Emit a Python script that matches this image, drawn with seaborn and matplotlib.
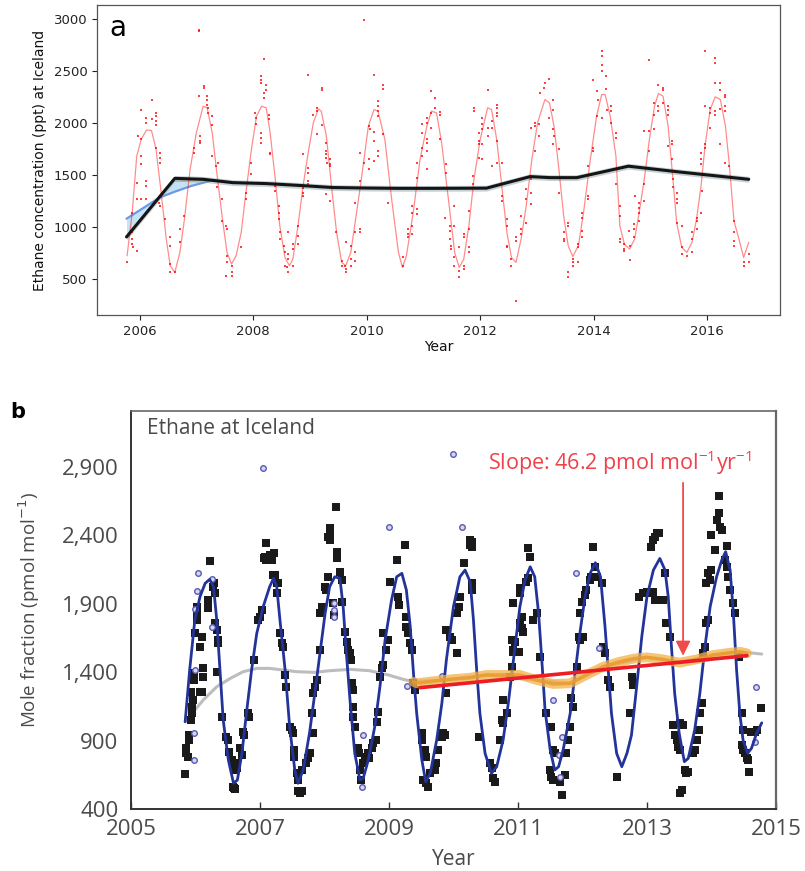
import numpy as np
import pandas as pd
import matplotlib
matplotlib.use("Agg")
import matplotlib.pyplot as plt
import seaborn as sns

# ---------------- Panel a data ----------------
a_obs = [
(2005.78,666),(2005.87,1139),(2005.87,948),(2005.87,884),(2005.87,836),(2005.88,804),
(2005.95,765),(2005.95,1427),(2005.95,1267),(2005.97,1875),
(2006.03,2130),(2006.03,1843),(2006.03,1683),(2006.03,1603),(2006.03,1267),
(2006.12,2050),(2006.12,2002),(2006.12,1443),(2006.12,1395),(2006.12,1267),
(2006.21,2226),(2006.21,2034),
(2006.29,2098),(2006.29,2066),(2006.29,2018),(2006.29,1977),(2006.29,1763),
(2006.36,1715),(2006.36,1667),(2006.36,1619),(2006.34,1235),(2006.36,1203),
(2006.44,1075),(2006.53,909),(2006.53,820),(2006.53,644),(2006.53,564),(2006.62,564),
(2006.71,980),(2006.71,852),(2006.79,1107),(2006.95,1763),(2006.95,1715),
(2007.04,2897),(2007.04,2880),(2007.06,1875),(2007.06,1827),(2007.06,1804),(2007.04,2258),
(2007.13,2354),(2007.13,2338),
(2007.18,2258),(2007.19,2226),(2007.19,2178),(2007.21,2146),(2007.20,2098),
(2007.28,2066),(2007.28,1977),(2007.28,1683),(2007.35,1587),(2007.38,1619),(2007.37,1389),
(2007.46,1267),(2007.46,1059),(2007.53,1011),(2007.54,980),
(2007.54,724),(2007.54,660),(2007.62,628),(2007.63,564),(2007.63,532),(2007.53,526),
(2007.78,804),(2007.87,1331),(2007.88,1267),(2007.96,1619),(2007.96,1507),
(2008.03,2098),(2008.05,2050),(2008.05,1986),
(2008.13,2450),(2008.13,2418),(2008.13,2386),(2008.13,1906),(2008.13,1859),(2008.13,1811),
(2008.20,2616),(2008.20,2290),(2008.20,2242),(2008.22,2322),(2008.22,2370),
(2008.28,2082),(2008.28,2034),(2008.30,1715),(2008.30,1699),(2008.39,1395),(2008.39,1347),
(2008.46,1203),(2008.46,1139),(2008.46,1075),(2008.47,948),(2008.47,884),
(2008.54,820),(2008.56,756),(2008.57,628),(2008.59,612),
(2008.62,948),(2008.62,740),(2008.62,692),(2008.62,564),
(2008.70,836),(2008.70,788),(2008.70,628),(2008.79,1011),(2008.79,916),(2008.79,836),
(2008.88,1699),(2008.88,1379),(2008.88,1331),(2008.88,1299),
(2008.97,1571),(2008.97,1523),(2008.97,1443),(2008.97,1411),(2008.97,2466),
(2009.06,2082),(2009.13,2146),(2009.13,2114),(2009.12,1891),
(2009.22,2338),(2009.22,2322),(2009.22,1977),
(2009.29,1811),(2009.29,1731),(2009.29,1699),(2009.29,1667),(2009.30,1619),
(2009.36,1651),(2009.36,1603),(2009.36,1587),(2009.29,1315),(2009.36,1251),
(2009.46,948),(2009.56,676),(2009.56,628),
(2009.63,852),(2009.62,628),(2009.63,596),(2009.63,564),
(2009.72,820),(2009.72,692),(2009.72,628),
(2009.79,948),(2009.80,756),(2009.80,676),(2009.80,1235),
(2009.89,980),(2009.89,948),(2009.89,1715),(2009.89,1443),
(2009.96,2993),(2009.96,1619),
(2010.04,1555),(2010.04,1651),(2010.04,1970),(2010.05,1938),
(2010.13,2466),(2010.13,1913),(2010.13,1827),(2010.13,1635),
(2010.20,2210),(2010.20,2162),(2010.20,2114),(2010.20,2066),(2010.20,1731),(2010.20,1683),
(2010.29,2370),(2010.29,2328),(2010.29,1891),(2010.38,1235),
(2010.64,708),(2010.64,628),(2010.72,980),(2010.72,932),(2010.72,900),
(2010.79,1203),(2010.79,1139),(2010.79,1011),(2010.79,932),
(2010.88,1171),(2010.88,1123),(2010.88,1475),(2010.88,1619),
(2010.97,1906),(2010.97,1986),(2010.97,1763),(2010.97,1683),
(2011.06,1843),(2011.06,1811),(2011.06,1731),(2011.06,1555),(2011.06,2050),(2011.06,2002),
(2011.14,2306),(2011.14,2098),(2011.14,1954),(2011.21,2242),(2011.21,2146),
(2011.29,2104),(2011.29,2073),(2011.30,1843),
(2011.39,1603),(2011.39,1523),(2011.38,1091),
(2011.47,964),(2011.47,884),(2011.48,820),(2011.48,788),(2011.47,1011),
(2011.54,1203),(2011.54,1011),(2011.54,708),(2011.54,628),
(2011.63,804),(2011.63,580),(2011.63,516),
(2011.71,932),(2011.71,900),(2011.71,628),(2011.71,596),
(2011.80,980),(2011.80,804),(2011.80,756),(2011.80,1155),
(2011.88,1491),(2011.88,1411),(2011.89,2146),(2011.89,2114),
(2011.97,1906),(2011.97,1827),(2011.97,1795),(2011.97,1667),
(2012.04,2050),(2012.04,1986),(2012.04,1938),(2012.04,1795),(2012.04,1651),
(2012.13,2322),(2012.13,1954),(2012.13,1875),(2012.21,2018),(2012.21,1954),(2012.21,1587),
(2012.30,2178),(2012.30,2146),(2012.30,2098),(2012.30,2066),(2012.30,1827),(2012.30,1619),
(2012.39,1299),(2012.39,1251),(2012.39,1619),
(2012.47,1075),(2012.47,1011),(2012.47,820),(2012.47,804),(2012.55,692),(2012.55,628),
(2012.63,292),(2012.63,900),(2012.63,868),(2012.72,1107),(2012.72,980),(2012.72,932),
(2012.81,1267),(2012.81,1043),(2012.81,1363),
(2012.90,1459),(2012.90,1331),(2012.90,1219),(2012.90,1954),
(2012.97,2002),(2012.97,1970),(2012.97,1731),(2013.04,1986),(2013.04,1875),(2013.05,2290),
(2013.13,2338),(2013.14,2386),(2013.22,2424),(2013.22,2050),
(2013.29,2226),(2013.29,2130),(2013.29,1938),(2013.30,1875),(2013.29,1795),
(2013.38,1747),(2013.38,1331),(2013.47,948),(2013.47,884),(2013.47,868),
(2013.55,1043),(2013.55,1011),(2013.55,564),(2013.55,516),
(2013.64,692),(2013.64,660),(2013.64,628),(2013.73,836),(2013.73,804),(2013.73,660),
(2013.80,1139),(2013.80,1091),(2013.80,964),(2013.80,900),
(2013.89,1587),(2013.89,1299),(2013.89,1267),(2013.98,2418),(2013.98,1763),(2013.98,1731),
(2014.05,2306),(2014.07,2226),(2014.05,2066),
(2014.14,2690),(2014.14,2642),(2014.14,2562),(2014.14,2498),(2014.14,2050),
(2014.22,2450),(2014.22,2328),(2014.23,2130),(2014.31,2162),(2014.31,2114),(2014.31,2002),
(2014.39,1906),(2014.39,1859),(2014.39,1411),
(2014.47,1203),(2014.47,1107),(2014.47,884),(2014.47,852),
(2014.54,836),(2014.54,788),(2014.54,772),(2014.63,820),(2014.63,682),(2014.62,964),
(2014.71,1027),(2014.71,980),(2014.71,900),(2014.72,1299),
(2014.80,1235),(2014.80,1187),(2014.80,1139),(2014.80,1059),
(2014.89,1411),(2014.89,1251),(2014.89,1923),(2014.98,2610),(2014.98,1923),(2014.98,1731),
(2015.06,2194),(2015.06,2082),(2015.06,1938),(2015.14,2370),(2015.14,2162),(2015.14,2114),
(2015.22,2338),(2015.22,2316),(2015.22,2194),
(2015.31,2162),(2015.31,2130),(2015.31,2082),(2015.31,1779),
(2015.38,1827),(2015.38,1795),(2015.38,1657),(2015.39,1459),(2015.39,1389),
(2015.46,1331),(2015.46,1267),(2015.46,1235),(2015.46,1037),
(2015.55,1011),(2015.55,804),(2015.55,740),(2015.64,724),
(2015.73,948),(2015.73,884),(2015.73,756),(2015.81,1091),(2015.81,1059),(2015.81,980),
(2015.89,1139),(2015.89,1715),(2015.89,1651),(2015.89,1603),(2015.90,1347),
(2015.96,2690),(2015.96,2162),(2015.96,1795),(2015.96,1763),
(2016.05,1954),(2016.05,2146),(2016.05,2098),
(2016.14,2626),(2016.14,2578),(2016.14,2386),(2016.14,2114),(2016.14,2073),
(2016.23,2386),(2016.23,2322),(2016.23,2136),(2016.23,1795),
(2016.32,2274),(2016.32,2252),(2016.32,2162),(2016.32,2114),(2016.32,1612),
(2016.39,1587),(2016.47,1059),(2016.47,948),(2016.47,868),(2016.47,820),
(2016.65,660),(2016.65,628),(2016.73,740),(2016.73,660),
]

a_fit = [
(2005.78,724),(2005.87,1139),(2005.95,1683),(2006.03,1843),(2006.12,1932),(2006.21,1929),
(2006.29,1747),(2006.38,1331),(2006.47,884),(2006.54,628),(2006.62,564),(2006.71,756),
(2006.79,1075),(2006.89,1555),(2007.00,1906),(2007.12,2162),(2007.19,2146),(2007.28,1906),
(2007.36,1523),(2007.46,1075),(2007.54,756),(2007.62,644),(2007.70,724),(2007.79,948),
(2007.88,1363),(2007.97,1747),(2008.06,2066),(2008.15,2162),(2008.23,2146),(2008.30,1906),
(2008.39,1459),(2008.47,1011),(2008.56,708),(2008.64,628),(2008.70,692),(2008.79,1011),
(2008.88,1395),(2008.97,1715),(2009.06,2002),(2009.15,2136),(2009.20,2114),(2009.29,1875),
(2009.38,1395),(2009.47,948),(2009.56,660),(2009.63,628),(2009.72,756),(2009.89,1395),
(2010.03,1970),(2010.13,2130),(2010.20,2114),(2010.32,1843),(2010.44,1267),(2010.56,756),
(2010.63,612),(2010.70,724),(2010.82,1139),(2010.94,1651),(2011.06,1970),(2011.14,2114),
(2011.23,2098),(2011.32,1811),(2011.44,1267),(2011.55,756),(2011.63,612),(2011.71,692),
(2011.80,1011),(2011.89,1459),(2012.00,1843),(2012.13,2146),(2012.20,2130),(2012.29,1843),
(2012.38,1395),(2012.47,948),(2012.55,708),(2012.63,660),(2012.72,884),(2012.81,1203),
(2012.91,1651),(2013.01,2002),(2013.14,2226),(2013.22,2194),(2013.30,1970),(2013.38,1587),
(2013.47,1107),(2013.55,820),(2013.63,717),(2013.73,820),(2013.82,1139),(2013.94,1651),
(2014.05,2066),(2014.14,2274),(2014.20,2274),(2014.29,2066),(2014.39,1683),(2014.46,1011),
(2014.54,836),(2014.63,788),(2014.72,884),(2014.80,1139),(2014.89,1459),(2014.98,1843),
(2015.07,2162),(2015.14,2284),(2015.22,2258),(2015.31,1970),(2015.39,1491),(2015.46,1043),
(2015.55,804),(2015.64,756),(2015.73,852),(2015.81,1075),(2015.89,1395),(2015.96,1779),
(2016.05,2130),(2016.14,2252),(2016.23,2226),(2016.32,1970),(2016.39,1587),(2016.47,1059),
(2016.55,900),(2016.64,708),(2016.73,852),
]

a_trend_year = [2005.77, 2006.62, 2007.12, 2007.64, 2008.23, 2008.82, 2009.40, 2010.00,
                2010.58, 2011.20, 2012.11, 2012.88, 2013.23, 2013.70, 2014.61, 2015.50, 2016.73]
a_trend_ppt = [905, 1468, 1459, 1427, 1418, 1400, 1380, 1375,
               1372, 1372, 1374, 1485, 1475, 1475, 1585, 1530, 1459]
a_blue_year = [2005.77, 2006.35, 2006.62, 2006.91, 2007.25]
a_blue_ppt = [1080, 1283, 1340, 1395, 1445]
a_blue_upper = [905, 1289, 1468, 1463, 1455]
a_orange_year = [2006.62, 2007.25]
a_orange_ppt = [1440, 1452]

# ---------------- Panel b data ----------------
b_obs = [
(2005.83,656),(2005.86,807),(2005.86,843),(2005.88,782),(2005.90,941),(2005.90,904),
(2005.93,1051),(2005.94,1099),(2005.94,1148),(2005.96,1197),(2005.93,1258),
(2005.97,1343),(2005.97,1392),(2006.00,1684),(2006.02,1782),(2006.03,1842),(2006.03,1879),
(2006.07,1258),(2006.10,1258),(2006.11,1367),(2006.12,1428),(2006.07,1587),(2006.10,1660),
(2006.20,1867),(2006.20,1928),(2006.22,2215),
(2006.27,2025),(2006.29,2050),(2006.30,1976),(2006.30,1757),(2006.33,1709),
(2006.35,1635),(2006.35,1611),(2006.33,1404),
(2006.41,1075),(2006.48,929),(2006.51,904),(2006.52,819),
(2006.56,758),(2006.59,709),(2006.61,685),(2006.58,563),(2006.60,551),(2006.61,544),
(2006.64,734),(2006.65,697),(2006.69,843),(2006.72,795),(2006.74,965),(2006.75,941),
(2006.82,1099),(2006.83,1075),(2006.91,1489),(2006.97,1782),(2007.00,1806),(2007.03,1855),
(2007.09,2342),(2007.08,2245),(2007.10,2220),(2007.15,2257),(2007.18,2220),(2007.06,2232),
(2007.22,2269),(2007.20,2110),(2007.23,2110),(2007.26,2050),(2007.28,2050),(2007.26,1976),
(2007.31,1684),(2007.34,1611),(2007.36,1587),(2007.39,1380),(2007.41,1294),
(2007.47,1002),(2007.49,977),(2007.51,953),(2007.52,831),(2007.53,782),
(2007.57,661),(2007.59,612),(2007.59,533),(2007.62,519),(2007.65,533),(2007.65,685),
(2007.72,734),(2007.75,770),(2007.77,807),(2007.83,953),(2007.83,1245),
(2007.80,1099),(2007.85,1294),(2007.88,1343),(2007.93,1562),(2007.93,1830),(2007.96,1879),
(2008.01,2025),(2008.03,2001),(2008.06,2098),
(2008.06,2391),(2008.08,2415),(2008.09,2452),(2008.08,2367),(2008.18,2610),
(2008.19,2281),(2008.19,2232),(2008.24,2135),(2008.27,2074),(2008.27,1915),
(2008.14,1903),(2008.15,1818),
(2008.32,1696),(2008.35,1623),(2008.37,1562),(2008.40,1538),(2008.41,1489),
(2008.42,1319),(2008.44,1270),(2008.45,1148),(2008.45,1075),(2008.47,1002),
(2008.52,843),(2008.54,807),(2008.55,685),(2008.56,612),(2008.60,734),(2008.63,782),
(2008.68,807),(2008.69,770),(2008.73,843),(2008.76,880),(2008.80,904),(2008.81,1038),
(2008.83,1111),(2008.86,1367),(2008.89,1428),(2008.90,1453),(2008.91,1684),
(2008.96,1562),(2008.99,1635),
(2009.02,2062),(2009.12,2220),(2009.14,1952),(2009.16,1891),(2009.25,2330),
(2009.26,1806),(2009.27,1733),(2009.30,1684),(2009.32,1611),(2009.35,1562),
(2009.38,1319),(2009.40,1270),(2009.51,953),(2009.52,904),(2009.56,831),(2009.57,782),
(2009.53,612),(2009.58,588),(2009.61,563),(2009.64,661),(2009.71,685),(2009.73,734),
(2009.76,831),(2009.82,929),(2009.84,953),(2009.87,941),(2009.89,1245),(2009.89,1709),
(2009.95,1660),(2009.97,1635),(2010.05,1538),(2010.05,1830),(2010.08,1879),(2010.10,1952),
(2010.16,2196),(2010.26,2366),(2010.26,2330),
(2010.28,2354),(2010.28,2318),(2010.28,2050),(2010.28,2001),
(2010.40,929),(2010.57,734),(2010.59,697),(2010.62,624),(2010.64,600),
(2010.72,904),(2010.77,1197),(2010.75,1051),(2010.77,1026),(2010.83,1099),
(2010.88,1367),(2010.90,1440),(2010.93,1562),(2010.95,1623),(2010.90,1635),
(2010.93,1550),(2011.01,1550),
(2011.03,1757),(2011.06,1806),(2011.06,1721),(2011.08,1696),(2010.93,1903),
(2011.03,2013),(2011.03,1976),(2011.13,2062),(2011.16,2086),(2011.16,2306),(2011.19,2245),
(2011.24,1782),(2011.29,1830),(2011.34,1513),(2011.44,1099),(2011.52,1002),
(2011.55,831),(2011.57,807),(2011.50,685),(2011.52,636),(2011.55,612),
(2011.65,600),(2011.68,502),(2011.73,649),(2011.75,807),(2011.78,904),(2011.81,1002),
(2011.86,1148),(2011.83,1209),(2011.92,1440),
(2011.94,1660),(2011.96,1635),(2012.01,1660),(2011.96,1830),(2011.99,1915),
(2012.04,1964),(2012.06,2001),(2012.12,2074),(2012.14,2098),(2012.17,2318),
(2012.19,2171),(2012.22,2098),(2012.30,2050),(2012.32,1587),(2012.35,1538),
(2012.40,1343),(2012.43,1294),
(2012.53,636),(2012.74,1100),(2012.77,1367),(2012.79,1306),
(2012.87,1952),(2012.94,1976),(2013.00,1989),(2013.05,1976),(2013.10,1989),
(2013.07,2318),(2013.10,2366),(2013.12,2391),(2013.15,2415),(2013.18,2420),
(2013.12,1928),(2013.25,1928),(2013.28,2123),(2013.30,1757),(2013.36,1660),
(2013.41,1014),(2013.51,1026),(2013.56,1014),(2013.43,941),(2013.46,904),(2013.48,856),
(2013.51,831),(2013.59,685),(2013.61,661),(2013.64,673),(2013.54,539),(2013.51,519),
(2013.72,807),(2013.74,831),(2013.77,904),(2013.80,977),(2013.82,1099),(2013.85,1172),
(2013.87,1538),(2013.90,1587),(2013.92,1757),(2013.95,1782),(2013.92,2050),(2013.98,2074),
(2013.95,2123),(2014.00,2147),(2014.00,2403),(2014.05,2293),
(2014.08,2513),(2014.11,2561),(2014.12,2688),(2014.13,2464),(2014.16,2439),
(2014.24,2322),(2014.21,2220),(2014.24,2171),(2014.26,2098),(2014.29,2001),
(2014.34,1903),(2014.36,1830),(2014.42,1513),
(2014.47,1099),(2014.49,977),(2014.47,868),(2014.49,831),
(2014.52,807),(2014.55,770),(2014.57,758),(2014.59,673),
(2014.62,965),(2014.67,965),(2014.70,977),(2014.77,1136),
]

b_flagged = [
(2006.04,2123),(2006.03,1996),(2006.00,1860),(2006.00,1416),(2005.97,953),(2005.97,758),
(2006.25,2081),(2006.25,1733),(2007.04,2895),
(2008.15,1903),(2008.15,1855),(2008.15,1806),(2009.00,2464),(2009.28,1299),(2008.60,941),
(2008.58,563),(2009.99,2995),(2010.13,2464),(2009.83,1372),
(2011.90,2128),(2011.55,1197),(2011.68,929),(2011.63,795),(2011.65,636),(2012.25,1574),
(2014.69,1294),(2014.67,892),
]

b_fit = [
(2005.84,1038),(2005.91,1416),(2005.99,1782),(2006.07,1952),(2006.15,2050),(2006.22,2079),
(2006.28,2025),(2006.33,1782),(2006.38,1416),(2006.43,1051),(2006.51,758),(2006.59,588),
(2006.65,612),(2006.72,807),(2006.79,1099),(2006.87,1416),(2006.95,1684),(2007.05,1879),
(2007.15,2025),(2007.21,2086),(2007.26,2025),(2007.31,1782),(2007.39,1416),(2007.46,1002),
(2007.54,685),(2007.59,588),(2007.67,685),(2007.77,960),(2007.85,1245),(2007.93,1538),
(2008.01,1830),(2008.08,2025),(2008.16,2098),(2008.24,2086),(2008.29,1879),(2008.34,1538),
(2008.40,1172),(2008.47,807),(2008.55,612),(2008.60,624),(2008.68,758),(2008.78,1002),
(2008.86,1294),(2008.94,1635),(2009.04,1928),(2009.12,2098),(2009.20,2123),(2009.27,2001),
(2009.33,1733),(2009.38,1392),(2009.43,1099),(2009.51,758),(2009.57,600),(2009.64,661),
(2009.74,904),(2009.82,1172),(2009.89,1489),(2010.00,1879),(2010.10,2098),(2010.18,2147),
(2010.26,2060),(2010.31,1782),(2010.36,1416),(2010.41,1099),(2010.49,807),(2010.59,661),
(2010.67,709),(2010.77,904),(2010.85,1172),(2010.93,1489),(2011.03,1879),(2011.11,2074),
(2011.19,2171),(2011.26,2098),(2011.32,1830),(2011.37,1489),(2011.42,1124),(2011.50,831),
(2011.57,685),(2011.63,709),(2011.70,831),(2011.81,1099),(2011.88,1367),(2011.96,1684),
(2012.04,1952),(2012.12,2123),(2012.20,2201),(2012.28,2098),(2012.35,1733),(2012.40,1416),
(2012.45,1099),(2012.53,807),(2012.61,709),(2012.69,807),(2012.76,940),(2012.84,1294),
(2012.92,1660),(2013.00,1952),(2013.10,2147),(2013.20,2232),(2013.28,2147),(2013.33,1952),
(2013.38,1587),(2013.43,1245),(2013.50,953),(2013.58,746),(2013.64,770),(2013.74,977),
(2013.82,1245),(2013.90,1587),(2013.98,1879),(2014.08,2098),(2014.16,2220),(2014.22,2281),
(2014.29,2147),(2014.34,1830),(2014.39,1416),(2014.44,1099),(2014.49,904),(2014.56,807),
(2014.62,843),(2014.70,953),(2014.78,1030),
]

b_gray = [
(2005.84,1038),(2005.97,1111),(2006.12,1197),(2006.33,1294),(2006.54,1355),(2006.74,1404),
(2006.95,1428),(2007.15,1428),(2007.36,1416),(2007.57,1404),(2007.85,1399),(2008.08,1411),
(2008.40,1421),(2008.70,1411),(2008.99,1380),(2009.22,1348),(2009.38,1331),(2009.84,1343),
(2010.51,1380),(2011.29,1343),(2011.81,1319),(2012.32,1440),(2013.00,1509),(2013.51,1470),
(2014.03,1526),(2014.44,1550),(2014.78,1533),
]

b_orange = [
(2009.38,1330),(2009.43,1319),(2009.84,1343),(2010.26,1360),(2010.51,1380),(2010.77,1380),
(2011.03,1380),(2011.29,1343),(2011.55,1314),(2011.81,1319),(2012.06,1380),(2012.32,1440),
(2012.58,1477),(2012.81,1501),(2013.00,1509),(2013.25,1494),(2013.51,1470),(2013.77,1494),
(2014.03,1526),(2014.29,1543),(2014.44,1550),(2014.55,1538),
]

b_slope_year = [2009.48, 2014.55]
b_slope_val = [1287, 1521]

# ---------------- Figure ----------------
sns.set_style("white")
plt.rcParams['font.family'] = ['DejaVu Sans']

fig = plt.figure(figsize=(8.05, 8.71), dpi=100)
ax_a = fig.add_axes([0.1205, 0.6384, 0.8484, 0.3559])
ax_b = fig.add_axes([0.1627, 0.0712, 0.8012, 0.4569])

# ---- Panel a ----
dfa_obs = pd.DataFrame(a_obs, columns=["year", "ppt"])
dfa_fit = pd.DataFrame(a_fit, columns=["year", "ppt"])

ax_a.fill_between(a_blue_year, a_blue_ppt, a_blue_upper, color="#bfe0f5", alpha=0.9, lw=0, zorder=2)
sns.lineplot(x=a_blue_year, y=a_blue_ppt, ax=ax_a, color="#6c9be3", lw=1.6, sort=False,
             estimator=None, zorder=3)
sns.lineplot(x=a_orange_year, y=a_orange_ppt, ax=ax_a, color="#f3b27a", lw=0.8, sort=False,
             estimator=None, zorder=3)
lo = [v - 28 for v in a_trend_ppt]
hi = [v + 28 for v in a_trend_ppt]
ax_a.fill_between(a_trend_year, lo, hi, color="#7f9aa0", alpha=0.45, lw=0, zorder=3)
sns.lineplot(data=dfa_fit, x="year", y="ppt", ax=ax_a, color="red", lw=0.9, alpha=0.45,
             sort=False, estimator=None, zorder=4)
sns.scatterplot(data=dfa_obs, x="year", y="ppt", ax=ax_a, color="red", s=4, alpha=0.75,
                linewidth=0, marker="s", zorder=5)
sns.lineplot(x=a_trend_year, y=a_trend_ppt, ax=ax_a, color="#151515", lw=2.2, sort=False,
             estimator=None, zorder=6)

ax_a.set_xlim(2005.25, 2017.28)
ax_a.set_ylim(155, 3135)
ax_a.set_xticks([2006, 2008, 2010, 2012, 2014, 2016])
ax_a.set_yticks([500, 1000, 1500, 2000, 2500, 3000])
ax_a.tick_params(axis="both", direction="out", length=3.5, width=0.8, labelsize=9.5,
                 colors="#222222", bottom=True, left=True)
ax_a.set_xlabel("Year", fontsize=10, color="#111111", labelpad=2)
ax_a.set_ylabel("Ethane concentration (ppt) at Iceland", fontsize=10, color="#111111", labelpad=5)
for sp in ax_a.spines.values():
    sp.set_color("#555555")
    sp.set_linewidth(0.9)
ax_a.text(0.018, 0.925, "a", transform=ax_a.transAxes, fontsize=20, color="black", va="center")

# ---- Panel b ----
bfont = "Open Sans"
grey_txt = "#4a4a4a"
plt.rcParams['mathtext.fontset'] = 'custom'
plt.rcParams['mathtext.rm'] = bfont

dfb_obs = pd.DataFrame(b_obs, columns=["year", "val"])
dfb_flag = pd.DataFrame(b_flagged, columns=["year", "val"])
dfb_fit = pd.DataFrame(b_fit, columns=["year", "val"])
dfb_gray = pd.DataFrame(b_gray, columns=["year", "val"])
dfb_or = pd.DataFrame(b_orange, columns=["year", "val"])

sns.lineplot(data=dfb_gray, x="year", y="val", ax=ax_b, color="#bdbdbd", lw=2.2, sort=False,
             estimator=None, zorder=2)
sns.scatterplot(data=dfb_obs, x="year", y="val", ax=ax_b, color="#1a1a1a", marker="s", s=26,
                linewidth=0, zorder=3)
sns.scatterplot(data=dfb_flag, x="year", y="val", ax=ax_b, marker="o", s=16,
                facecolor="#d6d6f0", edgecolor="#5a5ab4", linewidth=1.0, zorder=3)
sns.lineplot(data=dfb_fit, x="year", y="val", ax=ax_b, color="#22349a", lw=2.0, sort=False,
             estimator=None, zorder=4)
sns.lineplot(data=dfb_or, x="year", y="val", ax=ax_b, color="#f2b04a", lw=7, alpha=0.75,
             sort=False, estimator=None, zorder=5)
sns.lineplot(data=dfb_or, x="year", y="val", ax=ax_b, color="#e99a2c", lw=2.5, alpha=0.8,
             sort=False, estimator=None, zorder=5)
sns.lineplot(x=b_slope_year, y=b_slope_val, ax=ax_b, color="#ee1c25", lw=2.6, sort=False,
             estimator=None, zorder=6)

ax_b.annotate("", xy=(2013.56, 1500), xytext=(2013.56, 2805),
              arrowprops=dict(arrowstyle="-|>", color="#f04a4a", lw=1.3, mutation_scale=22),
              zorder=7)
ax_b.text(2010.53, 2935, "Slope: 46.2 pmol mol$^{-1}$yr$^{-1}$", color="#f0404a",
          fontsize=15.5, family=bfont, va="center", ha="left")
ax_b.text(0.025, 0.955, "Ethane at Iceland", transform=ax_b.transAxes, color=grey_txt,
          fontsize=15, family=bfont, va="center", ha="left")

ax_b.set_xlim(2005, 2015)
ax_b.set_ylim(400, 3310)
ax_b.set_xticks([2005, 2007, 2009, 2011, 2013, 2015])
ax_b.set_yticks([400, 900, 1400, 1900, 2400, 2900])
ax_b.set_yticklabels(["400", "900", "1,400", "1,900", "2,400", "2,900"])
ax_b.tick_params(axis="x", direction="in", length=5, width=1.0, colors="#333333",
                 labelcolor=grey_txt, labelsize=16, pad=7, bottom=True)
ax_b.tick_params(axis="y", length=0, labelcolor=grey_txt, labelsize=16, pad=9)
for lab in ax_b.get_xticklabels() + ax_b.get_yticklabels():
    lab.set_family(bfont)
ax_b.set_xlabel("Year", fontsize=15, color=grey_txt, family=bfont, labelpad=7)
ax_b.set_ylabel("Mole fraction (pmol mol$^{-1}$)", fontsize=13.5, color=grey_txt,
                family=bfont, labelpad=14)
ax_b.spines["left"].set_color("#333333")
ax_b.spines["bottom"].set_color("#333333")
ax_b.spines["left"].set_linewidth(1.4)
ax_b.spines["bottom"].set_linewidth(1.4)
ax_b.spines["top"].set_color("#666666")
ax_b.spines["right"].set_color("#666666")
ax_b.spines["top"].set_linewidth(1.2)
ax_b.spines["right"].set_linewidth(1.6)

fig.text(10 / 805, 1 - 412 / 871, "b", fontsize=15, fontweight="bold", color="black",
         va="center", ha="left", family="DejaVu Sans")

fig.savefig("out.png", dpi=100, facecolor="white")
